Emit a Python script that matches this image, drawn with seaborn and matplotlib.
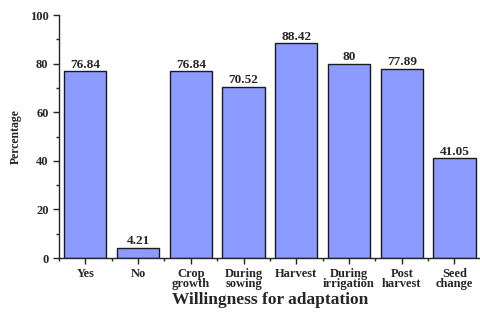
import matplotlib
matplotlib.use("Agg")
import matplotlib.pyplot as plt
import numpy as np
import pandas as pd
import seaborn as sns
from matplotlib.ticker import MultipleLocator, FixedLocator

categories = ["Yes", "No", "Crop\ngrowth", "During\nsowing", "Harvest",
              "During\nirrigation", "Post\nharvest", "Seed\nchange"]
values = [76.84, 4.21, 76.84, 70.52, 88.42, 80, 77.89, 41.05]
labels = ["76.84", "4.21", "76.84", "70.52", "88.42", "80", "77.89", "41.05"]

df = pd.DataFrame({"cat": categories, "val": values})

sns.set_style("ticks")
plt.rcParams['font.family'] = ['Liberation Serif', 'DejaVu Serif']
plt.rcParams['font.weight'] = 'bold'

fig = plt.figure(figsize=(4.81, 3.13), dpi=100)
ax = fig.add_axes([0.1227, 0.1757, 0.877, 0.7763])

sns.barplot(data=df, x="cat", y="val", color="#8c9bff", saturation=1,
            edgecolor="#1a1a1a", linewidth=1.0, width=0.8, ax=ax)

for i, (v, t) in enumerate(zip(values, labels)):
    ax.text(i, v + 0.2, t, ha="center", va="bottom", fontsize=9.5,
            fontweight="bold")

ax.set_xlim(-0.5, 7.5)
ax.set_ylim(0, 100)
ax.yaxis.set_major_locator(MultipleLocator(20))
ax.yaxis.set_minor_locator(MultipleLocator(10))
ax.xaxis.set_minor_locator(FixedLocator(np.arange(-0.5, 8, 1)))
ax.tick_params(axis="both", which="major", length=4, width=1, labelsize=9)
ax.tick_params(axis="x", which="major", pad=3)
ax.tick_params(axis="both", which="minor", length=2, width=1)
for lab in ax.get_xticklabels() + ax.get_yticklabels():
    lab.set_fontweight("bold")
    lab.set_linespacing(0.85)

ax.spines["top"].set_visible(False)
ax.spines["right"].set_visible(False)
ax.spines["left"].set_linewidth(1)
ax.spines["bottom"].set_linewidth(1)

ax.set_xlabel("Willingness for adaptation", fontsize=12.5, fontweight="bold",
              va="center")
ax.xaxis.set_label_coords(0.5, -0.173)
ax.set_ylabel("Percentage", fontsize=8.5, fontweight="bold", va="center")
ax.yaxis.set_label_coords(-0.102, 0.5)

fig.savefig("out.png", dpi=100)
